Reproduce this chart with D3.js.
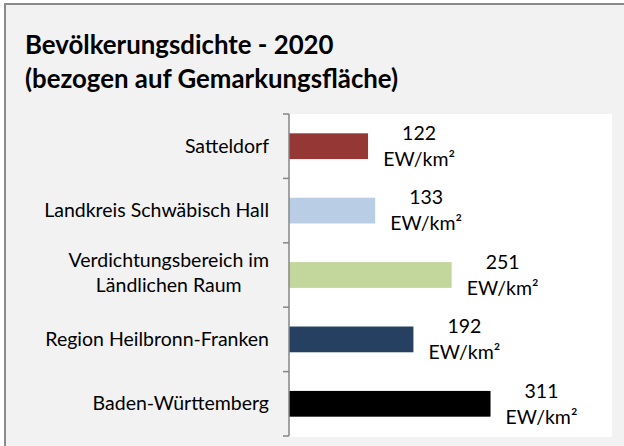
<!DOCTYPE html>
<html>
<head>
<meta charset="utf-8">
<script src="https://cdn.jsdelivr.net/npm/d3@7"></script>
<style>
  html, body { margin: 0; padding: 0; background: #ffffff; }
  svg { display: block; }
  text { font-family: Lato, "Open Sans", sans-serif; }
</style>
</head>
<body>
<svg id="chart" width="624" height="446"></svg>
<script>
// ---- data ----
const titleLines = ["Bevölkerungsdichte - 2020", "(bezogen auf Gemarkungsfläche)"];
const categories = ["Satteldorf", "Landkreis Schwäbisch Hall", "Verdichtungsbereich im\nLändlichen Raum", "Region Heilbronn-Franken", "Baden-Württemberg"];
const values = [122, 133, 251, 192, 311];
const barColors = ["#953735", "#b9cde5", "#c3d69b", "#254061", "#000000"];
const unitLabel = "EW/km²";
const xDomain = [0, 500];

// ---- layout ----
const svg = d3.select("#chart");
const plot = { left: 289, right: 612, top: 114, bottom: 437 };

// chart area background + border (cropped at right/bottom like reference)
svg.append("rect")
  .attr("x", 5).attr("y", 4)
  .attr("width", 640).attr("height", 460)
  .attr("fill", "#f2f2f2")
  .attr("stroke", "#8a8a8a").attr("stroke-width", 2);

// title
const title = svg.append("text")
  .attr("x", 25).attr("y", 54)
  .attr("font-weight", "bold").attr("font-size", 25.8).attr("fill", "#000");
title.selectAll("tspan").data(titleLines).enter().append("tspan")
  .attr("x", 25).attr("y", (d, i) => 54 + i * 34).text(d => d);

// plot area
svg.append("rect")
  .attr("x", plot.left).attr("y", plot.top)
  .attr("width", plot.right - plot.left).attr("height", plot.bottom - plot.top)
  .attr("fill", "#ffffff");

const x = d3.scaleLinear().domain(xDomain).range([plot.left, plot.left + 324]);
const y = d3.scaleBand().domain(categories).range([plot.top, plot.bottom - 1])
  .paddingInner(0.6).paddingOuter(0.3);

const data = categories.map((c, i) => ({ cat: c, value: values[i], color: barColors[i] }));

// bars
svg.append("g").selectAll("rect").data(data).enter().append("rect")
  .attr("x", x(0))
  .attr("y", d => y(d.cat))
  .attr("width", d => x(d.value) - x(0))
  .attr("height", y.bandwidth())
  .attr("fill", d => d.color);

// category axis (line + ticks between categories)
const boundaries = categories.map(c => y(c) - y.step() * y.paddingOuter());
boundaries.push(boundaries[boundaries.length - 1] + y.step());
const axisG = svg.append("g");
axisG.append("line")
  .attr("x1", x(0)).attr("x2", x(0))
  .attr("y1", boundaries[0]).attr("y2", boundaries[boundaries.length - 1])
  .attr("stroke", "#868686").attr("stroke-width", 1.5);
axisG.selectAll("line.tick").data(boundaries).enter().append("line")
  .attr("class", "tick")
  .attr("x1", x(0) - 6).attr("x2", x(0))
  .attr("y1", d => d).attr("y2", d => d)
  .attr("stroke", "#868686").attr("stroke-width", 1.5);

// category labels
const labelFont = 19.5;
const labelRight = 269;
data.forEach(d => {
  const lines = d.cat.split("\n");
  const cy = y(d.cat) + y.bandwidth() / 2;
  const t = svg.append("text").attr("font-size", labelFont).attr("fill", "#000");
  if (lines.length === 1) {
    t.attr("text-anchor", "end").attr("x", labelRight).attr("y", cy + 6.5).text(lines[0]);
  } else {
    const spans = lines.map((l, i) => t.append("tspan")
      .attr("x", 0).attr("y", cy - 7.6 + i * 25).text(l));
    const widths = spans.map(s => s.node().getComputedTextLength());
    const maxW = Math.max(...widths);
    const cx = labelRight - maxW / 2;
    t.attr("text-anchor", "middle");
    spans.forEach(s => s.attr("x", cx));
  }
});

// data labels
const dl = svg.append("g").attr("font-size", labelFont).attr("fill", "#000").attr("text-anchor", "middle");
data.forEach(d => {
  const cy = y(d.cat) + y.bandwidth() / 2;
  const cx = x(d.value) + 51;
  const t = dl.append("text");
  t.append("tspan").attr("x", cx).attr("y", cy - 6.3).text(d3.format("d")(d.value));
  t.append("tspan").attr("x", cx).attr("y", cy + 19.7).text(unitLabel);
});
</script>
</body>
</html>
